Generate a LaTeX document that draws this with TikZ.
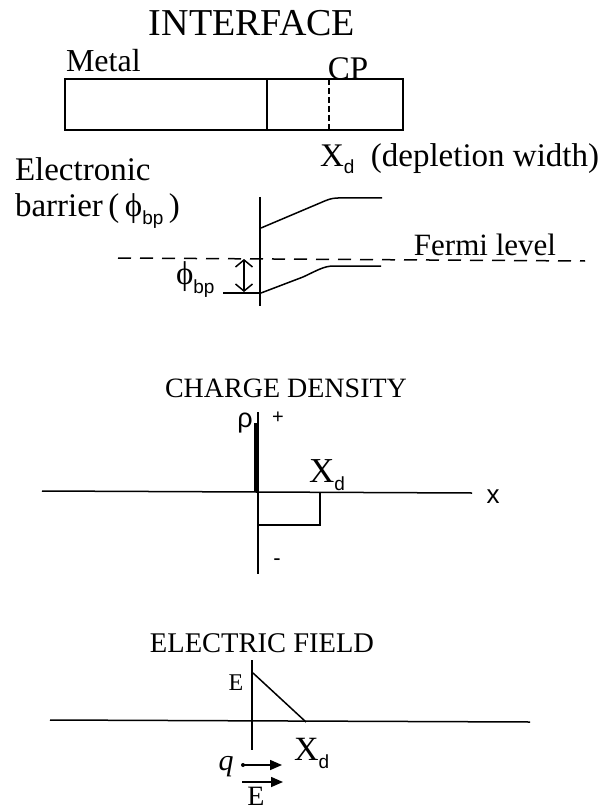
\documentclass[tikz,border=0pt]{standalone}
\usepackage{fontspec}
\setmainfont{Liberation Serif}
\newfontfamily\sansf{Liberation Sans}
\usetikzlibrary{arrows.meta}
\newcommand\lowsub[2]{\raisebox{-#2}{\sansf\fontsize{19}{19}\selectfont #1}}
\newcommand\phisym{\symbol{"03D5}}
\newcommand\fs[1]{\fontsize{#1}{#1}\selectfont}
\begin{document}
\begin{tikzpicture}[x=1pt,y=-1pt,
  lbl/.style={inner sep=0pt, outer sep=0pt},
  every path/.style={line width=1.5pt}
]
\useasboundingbox (0,0) rectangle (610,810);

% ---------- Interface ----------
\node[lbl, font=\fs{38}] (title) at (252,23) {INTERFACE};
\node[lbl, font=\fs{32}, anchor=base west] (metal) at (66,72) {Metal};
\node[lbl, font=\fs{33}, anchor=base] (cp) at (348,80) {CP};
\coordinate (bnw) at (65,79);
\coordinate (bse) at (403,130);
\draw (bnw) rectangle (bse);
\coordinate (d1t) at (267,79); \coordinate (d1b) at (267,130);
\coordinate (d2t) at (329,79); \coordinate (d2b) at (329,130);
\draw (d1t) -- (d1b);
\draw[dash pattern=on 6pt off 3pt] (d2t) -- (d2b);

% ---------- Band diagram ----------
\node[lbl, font=\fs{33}, anchor=base west] (elec) at (15,181) {Electronic};
\node[lbl, font=\fs{33}, anchor=base west] (barr) at (15,217) {barrier\,(\,\phisym\lowsub{bp}{8pt}\,)};
\node[lbl, font=\fs{33}, anchor=base west] (xdw) at (320,167) {X\lowsub{d}{7pt}\ \ (depletion width)};
\coordinate (vt) at (260,197); \coordinate (vb) at (260,306);
\draw (vt) -- (vb);
\coordinate (cbs) at (261,228); \coordinate (cbe) at (382,198);
\draw (cbs) -- (320,203) .. controls (327,200) and (331,198) .. (338,198) -- (cbe);
\coordinate (vbs) at (261,293); \coordinate (vbe) at (381,266);
\draw (vbs) -- (303,277) .. controls (318,270) and (324,266) .. (334,266) -- (vbe);
\coordinate (fl) at (118,258); \coordinate (fr) at (585,261);
\draw[dash pattern=on 13pt off 9pt] (fl) -- (fr);
\node[lbl, font=\fs{31}, anchor=base] (fermi) at (485,255) {Fermi level};
\coordinate (at) at (244,259); \coordinate (ab) at (244,292);
\draw[{Straight Barb[length=7pt,width=17pt]}-{Straight Barb[length=7pt,width=17pt]}] (at) -- (ab);
\coordinate (tk) at (223,293);
\draw (tk) -- (vbs);
\node[lbl, font=\fs{33}, anchor=west] (phib) at (176,280) {\phisym\lowsub{bp}{9pt}};

% ---------- Charge density ----------
\node[lbl, font=\fs{28}, anchor=base] (cd) at (286,397) {CHARGE DENSITY};
\node[lbl, font=\sansf\fs{27}] (rho) at (245,423) {\symbol{"03C1}};
\node[lbl, font=\sansf\fs{20}] (plus) at (278,418) {+};
\coordinate (rt) at (258,412); \coordinate (rb) at (258,574);
\draw[line width=1.2pt] (rt) -- (rb);
\coordinate (pt) at (256,423); \coordinate (o1) at (256,492);
\draw[line width=4pt] (pt) -- (o1);
\coordinate (xl) at (42,491); \coordinate (xr) at (472,493);
\draw (xl) -- (xr);
\node[lbl, font=\sansf\fs{26}] (xlab) at (493,497) {x};
\coordinate (r1) at (258,492); \coordinate (r2) at (258,525);
\coordinate (r3) at (320,525); \coordinate (r4) at (320,492);
\draw (r1) -- (r2) -- (r3) -- (r4);
\node[lbl, font=\fs{35}, anchor=base west] (xd1) at (309,482) {X\lowsub{d}{8pt}};
\node[lbl, font=\sansf\fs{22}] (minus) at (277,562) {-};

% ---------- Electric field ----------
\node[lbl, font=\fs{28.5}, anchor=base] (ef) at (262,652) {ELECTRIC FIELD};
\node[lbl, font=\fs{24}] (elab) at (236,683) {E};
\coordinate (et) at (252,660); \coordinate (eb) at (252,750);
\draw (et) -- (eb);
\coordinate (ds) at (253,673); \coordinate (de) at (306,722);
\draw (ds) -- (de);
\coordinate (al) at (50,720); \coordinate (ar) at (530,722);
\draw (al) -- (ar);
\node[lbl, font=\fs{34}, anchor=base west] (xd2) at (294,760) {X\lowsub{d}{8pt}};
\node[lbl, font=\itshape\fs{30}, anchor=base] (q) at (226,770) {q};
\coordinate (qs) at (243,765); \coordinate (qe) at (282,765);
\fill (qs) circle (2pt);
\draw[-{Triangle[length=12pt,width=10pt]}] (qs) -- (qe);
\coordinate (es) at (242,782); \coordinate (ee) at (283,782);
\draw[-{Triangle[length=12pt,width=10pt]}] (es) -- (ee);
\node[lbl, font=\fs{28}, anchor=base] (evec) at (256,805) {E};
\end{tikzpicture}
\end{document}
